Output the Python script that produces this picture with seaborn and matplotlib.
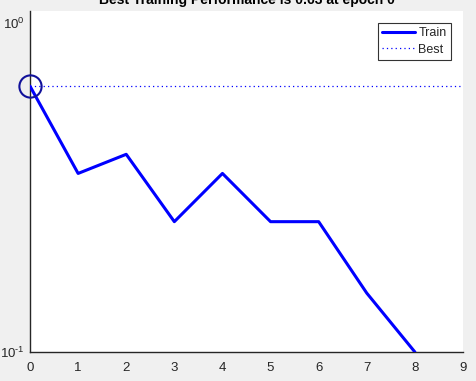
import matplotlib
matplotlib.use("Agg")
import matplotlib.pyplot as plt
import seaborn as sns
import pandas as pd
from matplotlib.ticker import NullFormatter, FixedLocator, FixedFormatter

epochs = [0, 1, 2, 3, 4, 5, 6, 7, 8]
train_perf = [0.643, 0.349, 0.399, 0.249, 0.349, 0.249, 0.249, 0.151, 0.1]
best_epoch = 0
best_perf = 0.643
title_text = "Best Training Performance is 0.63 at epoch 0"
x_ticks = [0, 1, 2, 3, 4, 5, 6, 7, 8, 9]
y_major = [0.1, 1.0]
y_minor = [0.2, 0.3, 0.4, 0.5, 0.6, 0.7, 0.8, 0.9]

sns.set_style("white")
plt.rcParams['font.family'] = ['Liberation Sans', 'DejaVu Sans']
plt.rcParams['mathtext.fontset'] = 'custom'
plt.rcParams['mathtext.rm'] = 'Liberation Sans'
plt.rcParams['mathtext.it'] = 'Liberation Sans'
plt.rcParams['mathtext.bf'] = 'Liberation Sans:bold'

# exponent labels with a short hyphen-like minus, falling back if unsupported
y_labels = [r'$10^{\text{-}1}$', r'$10^{0}$']
try:
    _f = plt.figure()
    _f.text(0, 0, y_labels[0])
    _f.canvas.draw()
    plt.close(_f)
except Exception:
    plt.close('all')
    y_labels = [r'$10^{-1}$', r'$10^{0}$']

W, H = 476, 381
fig = plt.figure(figsize=(W / 100, H / 100), dpi=100, facecolor='#f0f0f0')
ax = fig.add_axes([30 / W, 1 - 352 / H, (463 - 30) / W, (352 - 11) / H])
ax.set_facecolor('white')

df = pd.DataFrame({"epoch": epochs, "perf": train_perf})
sns.lineplot(data=df, x="epoch", y="perf", ax=ax, color='#0000ff', linewidth=2.2,
             label='Train', zorder=4)
ax.axhline(best_perf, color='#0000ff', linestyle=(0, (1, 2.5)), linewidth=0.9,
           label='Best', zorder=3)
ax.plot([best_epoch], [best_perf], marker='o', markersize=16, markerfacecolor='none',
        markeredgecolor='#10109a', markeredgewidth=1.5, linestyle='none',
        clip_on=False, zorder=5)

ax.set_yscale('log')
ax.set_ylim(0.1, 1.088)
ax.set_xlim(0, 9)
ax.set_xticks(x_ticks)
ax.set_xticklabels([str(t) for t in x_ticks])
ax.yaxis.set_major_locator(FixedLocator(y_major))
ax.yaxis.set_major_formatter(FixedFormatter(y_labels))
ax.yaxis.set_minor_locator(FixedLocator(y_minor))
ax.yaxis.set_minor_formatter(NullFormatter())

ax.set_xlabel('')
ax.set_ylabel('')
for s in ['top', 'right']:
    ax.spines[s].set_visible(False)
for s in ['left', 'bottom']:
    ax.spines[s].set_color('#262626')
    ax.spines[s].set_linewidth(1.0)

ax.tick_params(axis='both', which='both', direction='in', colors='#262626',
               labelsize=9.5, length=3.5, width=0.8)
ax.tick_params(axis='x', pad=7)
ax.tick_params(axis='y', pad=4)
ax.tick_params(axis='y', which='minor', length=3)

leg = ax.legend(loc='upper right', bbox_to_anchor=(451 / W, 1 - 23 / H),
                bbox_transform=fig.transFigure, frameon=True, fancybox=False,
                fontsize=9, handlelength=2.6, handletextpad=0.3, borderpad=0.35,
                labelspacing=0.35, borderaxespad=0)
leg.get_frame().set_edgecolor('black')
leg.get_frame().set_linewidth(0.8)
for t in leg.get_texts():
    t.set_color('#262626')

fig.text((30 + 463) / 2 / W, 1 - 4 / H, title_text, ha='center', va='baseline',
         fontsize=10, fontweight='bold', color='black')

fig.savefig('out.png', dpi=100, facecolor=fig.get_facecolor())
